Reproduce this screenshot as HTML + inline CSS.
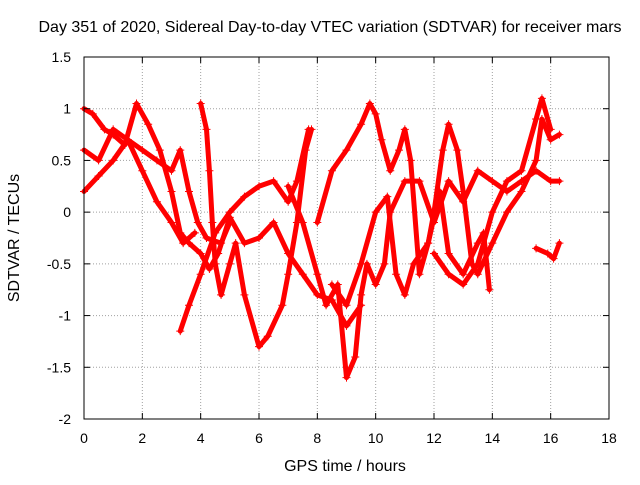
<!DOCTYPE html>
<html><head><meta charset="utf-8"><style>
body{margin:0;background:#fff;font-family:"Liberation Sans",sans-serif}
svg text{font-family:"Liberation Sans",sans-serif;font-size:14px;fill:#000}
svg text.big{font-size:16px}
</style></head><body>
<svg id="chart" width="640" height="480" xmlns="http://www.w3.org/2000/svg">
<text class="big" x="330" y="32" text-anchor="middle">Day 351 of 2020, Sidereal Day-to-day VTEC variation (SDTVAR) for receiver mars</text>
<g id="grid"></g>
<g id="series"></g>
<rect x="84" y="57" width="525" height="362" fill="none" stroke="#000" stroke-width="1"/>
<g id="ticks"></g>
<text class="big" x="345" y="471" text-anchor="middle">GPS time / hours</text>
<text class="big" transform="translate(19,238) rotate(-90)" text-anchor="middle">SDTVAR / TECUs</text>
</svg>
<script>
const xTicks=[0,2,4,6,8,10,12,14,16,18];
const yTicks=[1.5,1,0.5,0,-0.5,-1,-1.5,-2];
const traceA=[[0,1.0],[0.3,0.95],[0.7,0.8],[1.0,0.75],[1.4,0.65],[1.8,1.05],[2.2,0.85],[2.6,0.6],[3,0.2],[3.3,-0.2],[3.6,-0.3],[4,-0.4],[4.3,-0.55],[4.6,-0.4],[5,-0.05],[5.5,-0.3],[6,-0.25],[6.5,-0.1],[7,-0.4],[7.5,-0.6],[8,-0.8],[8.5,-0.85],[9,-1.1],[9.5,-0.9]];
const traceB=[[3.3,-1.15],[3.6,-0.9],[4,-0.6],[4.5,-0.2],[5,0.0],[5.5,0.15],[6,0.25],[6.5,0.3],[7,0.1],[7.3,0.3],[7.7,0.8]];
const traceC=[[4,1.05],[4.2,0.8],[4.3,0.4],[4.4,-0.1],[4.5,-0.5],[4.7,-0.8],[5,-0.5],[5.2,-0.3],[5.5,-0.8],[6,-1.3],[6.3,-1.2],[6.8,-0.9],[7,-0.6],[7.3,-0.1],[7.6,0.6],[7.8,0.8]];
const traceD=[[7,0.25],[7.5,-0.1],[8,-0.6],[8.3,-0.9],[8.7,-0.7],[9,-1.6],[9.3,-1.4],[9.5,-0.8],[9.7,-0.5],[10,-0.7],[10.3,-0.5],[10.5,0.0],[11,0.3],[11.5,0.3],[12,-0.1],[12.5,0.3],[13,0.1],[13.5,0.4],[14,0.3],[14.5,0.2],[15,0.3],[15.5,0.4],[16,0.3],[16.3,0.3]];
const traceE=[[8,-0.1],[8.5,0.4],[9,0.6],[9.5,0.85],[9.8,1.05],[10,0.95],[10.2,0.7],[10.5,0.4],[10.8,0.6],[11,0.8],[11.2,0.5],[11.5,-0.6],[11.8,-0.3],[12,0.0],[12.3,0.6],[12.5,0.85],[12.8,0.6],[13,0.2],[13.3,-0.5],[13.5,-0.6],[14,-0.3],[14.5,0.0],[15,0.2],[15.5,0.5],[15.7,0.9],[16,0.7],[16.3,0.75]];
const traceF=[[8.5,-0.7],[9,-0.9],[9.5,-0.5],[10,0.0],[10.4,0.15],[10.7,-0.6],[11,-0.8],[11.3,-0.5],[11.8,-0.3],[12.2,0.2],[12.5,-0.4],[13,-0.6],[13.5,-0.3],[13.7,-0.2],[13.9,-0.75]];
const traceG=[[0,0.2],[0.5,0.35],[1,0.5],[1.5,0.7],[2,0.6],[2.5,0.5],[3,0.4],[3.3,0.6],[3.6,0.2],[3.9,-0.1],[4.2,-0.25],[4.7,-0.3],[5,-0.1]];
const traceH=[[0,0.6],[0.5,0.5],[1,0.8],[1.5,0.7],[2,0.4],[2.5,0.1],[3,-0.1],[3.4,-0.3],[3.8,-0.2]];
const traceI=[[12,-0.4],[12.5,-0.6],[13,-0.7],[13.5,-0.5],[14,0.0],[14.5,0.3],[15,0.4],[15.5,0.9],[15.7,1.1],[16,0.8]];
const traceJ=[[15.5,-0.35],[15.9,-0.4],[16.1,-0.45],[16.3,-0.3]];
const traces=[traceA,traceB,traceC,traceD,traceE,traceF,traceG,traceH,traceI,traceJ];
const NS='http://www.w3.org/2000/svg';
const X0=84,X1=609,Y0=419,Y1=57;
function sx(v){return X0+(v-0)/(18-0)*(X1-X0);}
function sy(v){return Y0-(v+2)/(3.5)*(Y0-Y1);}
function mk(tag,attrs,parent){const e=document.createElementNS(NS,tag);for(const k in attrs)e.setAttribute(k,attrs[k]);parent.appendChild(e);return e;}
const grid=document.getElementById('grid'),ticks=document.getElementById('ticks'),ser=document.getElementById('series');
xTicks.forEach(t=>{const x=sx(t);
 if(t>0&&t<18){const g=mk('line',{x1:x,x2:x,y1:Y1,y2:Y0,stroke:'#a0a0a0','stroke-dasharray':'1,2'},grid);
 
 }
 mk('line',{x1:x,x2:x,y1:Y0,y2:Y0-6,stroke:'#000'},ticks);
 mk('line',{x1:x,x2:x,y1:Y1,y2:Y1+6,stroke:'#000'},ticks);
 const l=mk('text',{x:x,y:Y0+24,'text-anchor':'middle'},ticks);l.textContent=t;
 
 });
yTicks.forEach(t=>{const y=sy(t);
 if(t>-2&&t<1.5){const g=mk('line',{x1:X0,x2:X1,y1:y,y2:y,stroke:'#a0a0a0','stroke-dasharray':'1,2'},grid);
 
 }
 mk('line',{x1:X0,x2:X0+6,y1:y,y2:y,stroke:'#000'},ticks);
 mk('line',{x1:X1,x2:X1-6,y1:y,y2:y,stroke:'#000'},ticks);
 const l=mk('text',{x:X0-13,y:y+5,'text-anchor':'end'},ticks);l.textContent=t;
 
 });
traces.forEach((tr,i)=>{
 const p=mk('polyline',{points:tr.map(d=>sx(d[0])+','+sy(d[1])).join(' '),fill:'none',stroke:'#f00','stroke-width':5,'stroke-linejoin':'round','stroke-linecap':'round'},ser);
 
 
 tr.forEach(d=>{const x=sx(d[0]),y=sy(d[1]);
  const m=mk('path',{d:`M${x-4},${y}H${x+4}M${x},${y-4}V${y+4}`,stroke:'#f00','stroke-width':1},ser);
  
  });
});
</script>
</body></html>
